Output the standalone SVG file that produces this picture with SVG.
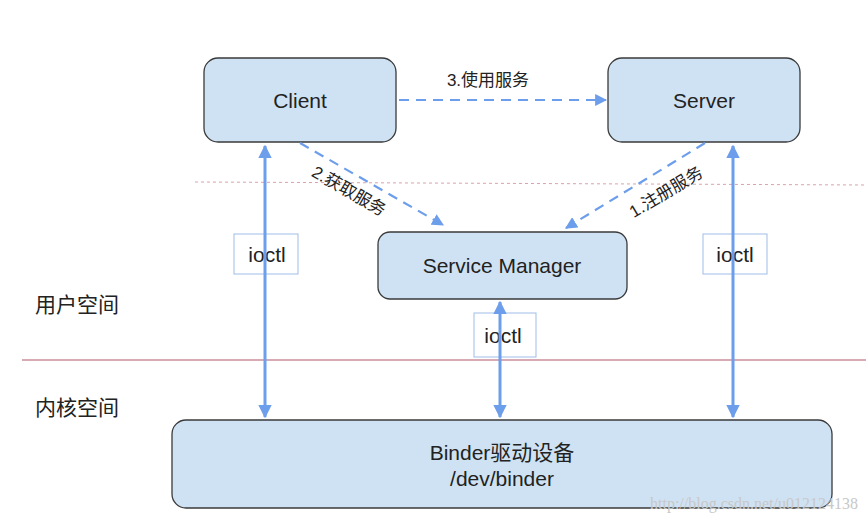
<svg xmlns="http://www.w3.org/2000/svg" width="866" height="524" viewBox="0 0 866 524">
<style>
.box{fill:#cfe2f3;stroke:#3a3a3a;stroke-width:1.3}
.t{font-family:"Liberation Sans","Noto Sans CJK SC",sans-serif;font-size:21px;fill:#222;text-anchor:middle}
.lbl{font-family:"Liberation Sans","Noto Sans CJK SC",sans-serif;font-size:17px;fill:#222;text-anchor:middle}
.io{fill:#fff;stroke:#9fbde6;stroke-width:1}
.solid{stroke:#6d9eeb;stroke-width:3;fill:none}
.dash{stroke:#6d9eeb;stroke-width:2.2;stroke-dasharray:10 7;fill:none}
</style>
<defs>
<marker id="ah" viewBox="0 0 10 10" refX="9" refY="5" markerWidth="4.5" markerHeight="4.5" orient="auto-start-reverse" markerUnits="strokeWidth"><path d="M0,0 L10,5 L0,10 z" fill="#6d9eeb"/></marker>
<marker id="ahd" viewBox="0 0 10 10" refX="9" refY="5" markerWidth="5.5" markerHeight="5.5" orient="auto" markerUnits="strokeWidth"><path d="M0,0 L10,5 L0,10 z" fill="#6d9eeb"/></marker>
</defs>
<rect width="866" height="524" fill="#fff"/>
<g id="zones">
<line x1="195" y1="182" x2="866" y2="185" stroke="#d9a3ad" stroke-width="1" stroke-dasharray="3 3"/>
<line x1="22" y1="360" x2="866" y2="360" stroke="#d7aab4" stroke-width="2"/>
<text x="77" y="312" class="t">用户空间</text>
<text x="77" y="415" class="t">内核空间</text>
</g>
<g id="client"><rect class="box" x="204" y="58" width="192" height="84" rx="14"/><text class="t" x="300" y="108">Client</text></g>
<g id="server"><rect class="box" x="608" y="58" width="192" height="84" rx="14"/><text class="t" x="704" y="108">Server</text></g>
<g id="servicemanager"><rect class="box" x="378" y="232" width="249" height="67" rx="12"/><text class="t" x="502" y="273">Service Manager</text></g>
<g id="binder"><rect class="box" x="172" y="420" width="660" height="88" rx="14"/><text class="t" x="502" y="460">Binder驱动设备</text><text class="t" x="502" y="486">/dev/binder</text></g>
<g id="ioctl-left"><rect class="io" x="234" y="234" width="64" height="40"/><text class="t" x="267" y="262">ioctl</text></g>
<g id="ioctl-right"><rect class="io" x="703" y="234" width="64" height="40"/><text class="t" x="735" y="262">ioctl</text></g>
<g id="ioctl-mid"><rect class="io" x="474" y="313" width="62" height="44"/><text class="t" x="503" y="343">ioctl</text></g>
<g id="connectors">
<line class="solid" x1="265" y1="146" x2="265" y2="417" marker-start="url(#ah)" marker-end="url(#ah)"/>
<line class="solid" x1="500" y1="302" x2="500" y2="417" marker-start="url(#ah)" marker-end="url(#ah)"/>
<line class="solid" x1="733" y1="146" x2="733" y2="417" marker-start="url(#ah)" marker-end="url(#ah)"/>
<line class="dash" x1="399" y1="100" x2="606" y2="100" marker-end="url(#ahd)"/>
<line class="dash" x1="300" y1="143" x2="443" y2="225" marker-end="url(#ahd)"/>
<line class="dash" x1="705" y1="143" x2="566" y2="228" marker-end="url(#ahd)"/>
<text class="lbl" x="488" y="86">3.使用服务</text>
<text class="lbl" transform="translate(346,196) rotate(30)">2.获取服务</text>
<text class="lbl" transform="translate(669,197) rotate(-31)">1.注册服务</text>
</g>
<text x="858" y="509" font-family="Liberation Serif,serif" font-size="16" fill="#c8c8c8" text-anchor="end">http://blog.csdn.net/u012124138</text>
</svg>
